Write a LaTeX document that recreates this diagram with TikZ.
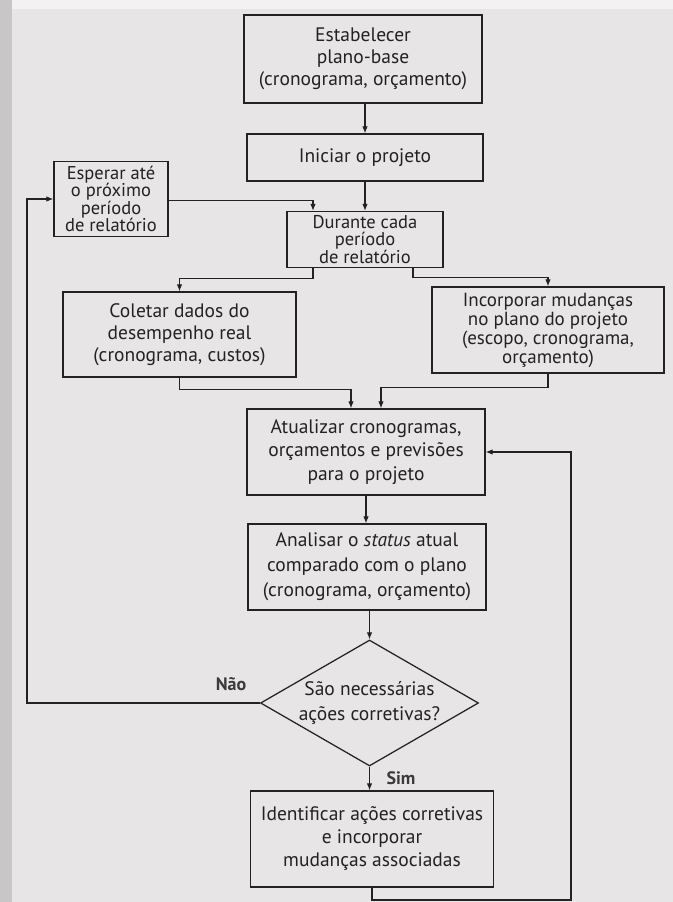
\documentclass[tikz,border=0pt]{standalone}
\usepackage{fontspec}
\setmainfont{PT Sans}
\usetikzlibrary{shapes.geometric,arrows.meta,calc}
\definecolor{pagebg}{HTML}{E7E5E6}
\definecolor{strip}{HTML}{C9C6C7}
\definecolor{topbg}{HTML}{F3F2F2}
\definecolor{ink}{HTML}{222222}
\definecolor{lbl}{HTML}{3A3A3A}
\newcommand{\fsz}[2]{\fontsize{#1bp}{#2bp}\selectfont}
\tikzset{
  stepbox/.style={draw=ink, line width=1.25bp, inner sep=0pt, align=center,
    text=ink, font=\fsz{19.5}{22.5}},
  decbox/.style={draw=ink, line width=1.25bp, shape=diamond, aspect=1.73,
    inner sep=0pt, minimum width=218bp, minimum height=126bp, align=center,
    text=ink, font=\fsz{19.5}{25}},
  conn/.style={draw=ink, line width=1.1bp, -{Latex[length=7bp,width=5.5bp]}},
  lab/.style={text=lbl, font=\fsz{18}{20}\bfseries}
}
\begin{document}
\begin{tikzpicture}[x=1bp,y=-1bp]
\useasboundingbox (0,0) rectangle (673,902);
\fill[pagebg] (0,0) rectangle (673,902);
\fill[topbg] (0,0) rectangle (673,9);
\fill[strip] (0,0) rectangle (12,902);

\node[stepbox, minimum width=238bp, minimum height=88bp, font=\fsz{19.5}{22}] (estab) at (363,59)
  {Estabelecer\\plano-base\\(cronograma, orçamento)};
\node[stepbox, minimum width=236bp, minimum height=47bp] (inic) at (365,157.5)
  {Iniciar o projeto};
\node[stepbox, minimum width=114bp, minimum height=75bp, font=\fsz{18.5}{17.2}] (esper) at (111,199)
  {Esperar até\\o próximo\\período\\de relatório};
\node[stepbox, minimum width=156bp, minimum height=56bp, font=\fsz{18.5}{17.2}] (durante) at (365,239.5)
  {Durante cada\\período\\de relatório};
\node[stepbox, minimum width=233bp, minimum height=85bp, font=\fsz{19.5}{22}] (coletar) at (179.5,334.5)
  {Coletar dados do\\desempenho real\\(cronograma, custos)};
\node[stepbox, minimum width=232bp, minimum height=86bp, font=\fsz{19}{19}] (incorp) at (548,330)
  {Incorporar mudanças\\no plano do projeto\\(escopo, cronograma,\\orçamento)};
\node[stepbox, minimum width=238bp, minimum height=86bp, font=\fsz{19.5}{23.5}] (atual) at (366,452)
  {Atualizar cronogramas,\\orçamentos e previsões\\para o projeto};
\node[stepbox, minimum width=238bp, minimum height=86bp, font=\fsz{19.5}{25}] (anal) at (367,567)
  {Analisar o \textit{status} atual\\comparado com o plano\\(cronograma, orçamento)};
\node[decbox] (dec) at (369.5,703)
  {São necessárias\\ações corretivas?};
\node[stepbox, minimum width=243bp, minimum height=96bp, font=\fsz{19.5}{23}] (ident) at (372,839)
  {Identificar ações corretivas\\e incorporar\\mudanças associadas};

\node[lab] (nao) at (231,684) {Não};
\node[lab] (sim) at (401,778) {Sim};

\coordinate (lc) at (27,0);
\coordinate (rc) at (571,900);

\draw[conn] (estab.south -| inic.north) -- (inic.north);
\draw[conn] (inic.south) -- (inic.south |- durante.north);
\draw[conn] ([yshift=-1.5bp]esper.east) -| ([xshift=-52bp]durante.north);
\draw[conn] ([xshift=-52bp]durante.south) -- ++(0,10) -| (coletar.north);
\draw[conn] ([xshift=48bp]durante.south) -- ++(0,9) -| (incorp.north);
\draw[conn] (coletar.south) -- ++(0,12) -| ([xshift=-15bp]atual.north);
\draw[conn] (incorp.south) -- ++(0,14) -| ([xshift=15bp]atual.north);
\draw[conn] (atual.south) -- (atual.south |- anal.north);
\draw[conn] (anal.south -| dec.north) -- (dec.north);
\draw[conn] (dec.south) -- (dec.south |- ident.north);
\draw[conn] (dec.west) -- (dec.west -| lc) -- (lc |- esper.west) -- (esper.west);
\draw[conn] (ident.south) -- (ident.south |- rc) -- (rc) -- (rc |- atual.east) -- (atual.east);
\end{tikzpicture}
\end{document}
